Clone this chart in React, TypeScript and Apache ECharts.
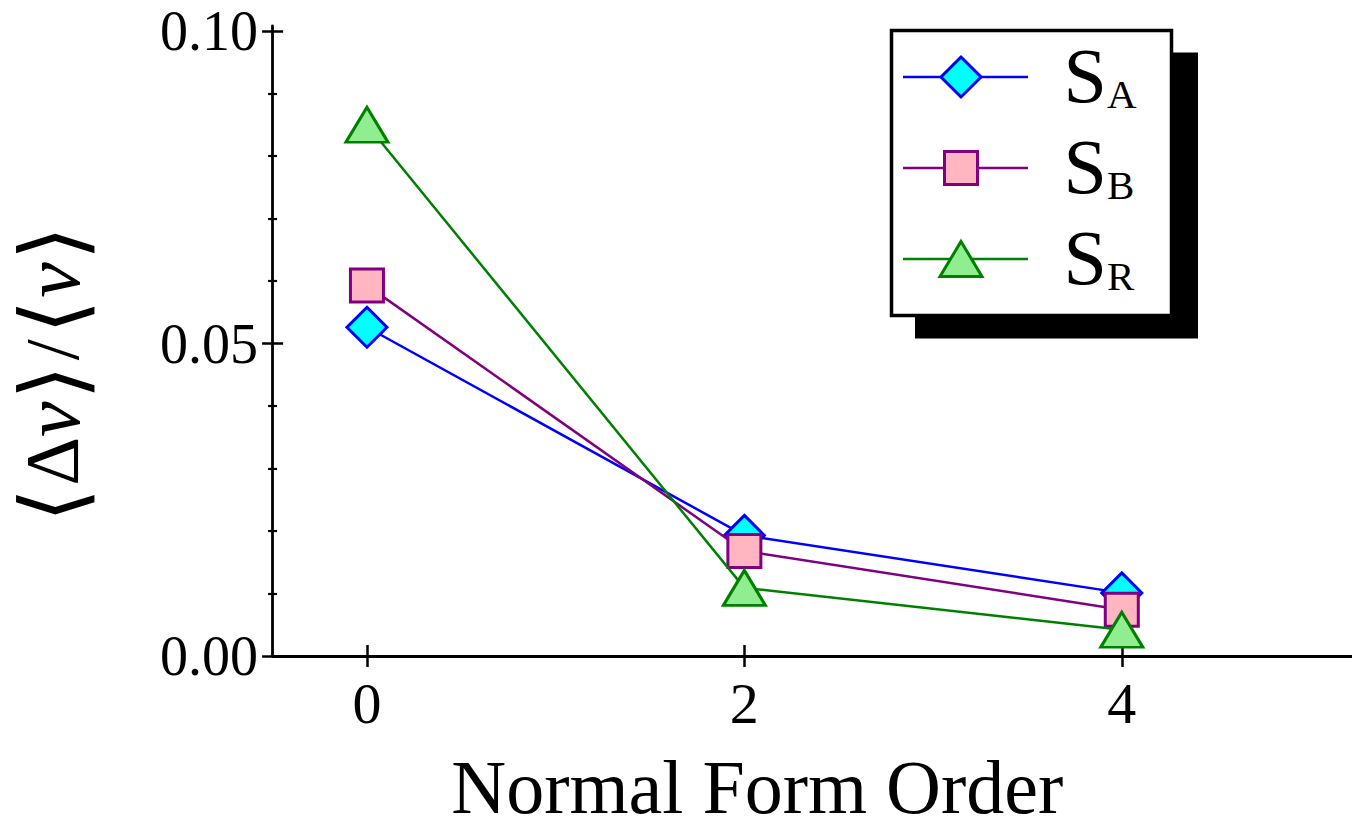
import React, { useEffect, useRef } from "react";
import * as echarts from "echarts";

// Normal form order on the x axis, relative velocity spread on the y axis
const orders = [0, 2, 4];
const valuesA = [0.0526, 0.0193, 0.0101];
const valuesB = [0.0593, 0.0168, 0.0074];
const valuesR = [0.085, 0.0109, 0.0042];
const seriesValues = [valuesA, valuesB, valuesR];
const seriesNames = ["SA", "SB", "SR"];
const subscripts = ["A", "B", "R"];

const xTicks = [0, 2, 4];
const yMajorTicks = [0, 0.05, 0.1];
const yMinorTicks = [0.01, 0.02, 0.03, 0.04, 0.06, 0.07, 0.08, 0.09];

const SERIF = "'Liberation Serif', 'Times New Roman', serif";

const looks = [
  { line: "#0000ff", fill: "#00ffff", symbol: "diamond", size: 40 as number | number[] },
  { line: "#800080", fill: "#ffb6c1", symbol: "rect", size: 33 as number | number[] },
  { line: "#008000", fill: "#90ee90", symbol: "triangle", size: [42, 35] as number | number[] },
];

function legendMarker(i: number, cx: number, cy: number) {
  const st = { fill: looks[i].fill, stroke: looks[i].line, lineWidth: 3 };
  if (i === 0) {
    return {
      type: "polygon",
      shape: { points: [[cx, cy - 20], [cx + 20, cy], [cx, cy + 20], [cx - 20, cy]] },
      style: st,
    };
  }
  if (i === 1) {
    return { type: "rect", shape: { x: cx - 16.5, y: cy - 16.5, width: 33, height: 33 }, style: st };
  }
  return {
    type: "polygon",
    shape: { points: [[cx, cy - 17.5], [cx + 21, cy + 17.5], [cx - 21, cy + 17.5]] },
    style: st,
  };
}

// Framed key with a solid drop shadow, drawn at the upper right
function buildLegend() {
  const rows = [77, 168, 259];
  const children: any[] = [
    { type: "rect", shape: { x: 915, y: 52.5, width: 283, height: 286 }, style: { fill: "#000" } },
    {
      type: "rect",
      shape: { x: 891.5, y: 30.5, width: 280, height: 285 },
      style: { fill: "#fff", stroke: "#000", lineWidth: 3.5 },
    },
  ];
  rows.forEach((ry, i) => {
    children.push({
      type: "line",
      shape: { x1: 903, y1: ry, x2: 1028, y2: ry },
      style: { stroke: looks[i].line, lineWidth: 2.5 },
    });
    children.push(legendMarker(i, 961, ry));
    children.push({
      type: "text",
      x: 1063.5,
      y: ry - 1.8,
      style: {
        text: `{s|S}{b|${subscripts[i]}}`,
        align: "left",
        verticalAlign: "middle",
        fill: "#000",
        rich: {
          s: { fontFamily: SERIF, fontSize: 78, lineHeight: 78 },
          b: { fontFamily: SERIF, fontSize: 41, lineHeight: 35, verticalAlign: "bottom" },
        },
      },
    });
  });
  return [{ type: "group", z: 100, children }];
}

export default function App() {
  const ref = useRef<HTMLDivElement>(null);

  useEffect(() => {
    if (!ref.current) return;
    const chart = echarts.init(ref.current, null, { renderer: "svg" });

    const yCommon = {
      type: "value",
      min: 0,
      max: 0.1008,
      position: "left",
      offset: 0,
      splitLine: { show: false },
    };
    const xCommon = {
      type: "value",
      min: -0.5,
      max: 5.22,
      position: "bottom",
      offset: 0,
      splitLine: { show: false },
    };
    const hiddenLine = { show: false, onZero: false };
    const tickLine = (w: number) => ({ color: "#000", width: w });

    chart.setOption({
      animation: false,
      backgroundColor: "#ffffff",
      grid: {
        left: 272.6,
        right: 0,
        top: 26,
        bottom: 173,
        containLabel: false,
        outerBoundsMode: "none",
      },
      xAxis: [
        {
          ...xCommon,
          name: "Normal Form Order",
          nameLocation: "middle",
          nameGap: 92.5,
          nameTextStyle: {
            fontFamily: SERIF,
            fontSize: 76,
            color: "#000",
            padding: [0, 110, 0, 0],
          },
          axisLine: { show: true, onZero: false, lineStyle: { color: "#000", width: 2.8 } },
          axisTick: { show: true, inside: false, length: 11, customValues: xTicks, lineStyle: tickLine(2.5) },
          axisLabel: {
            show: true,
            customValues: xTicks,
            margin: 18,
            fontFamily: SERIF,
            fontSize: 58,
            color: "#000",
          },
        },
        {
          ...xCommon,
          axisLine: hiddenLine,
          axisTick: { show: true, inside: true, length: 11, customValues: xTicks, lineStyle: tickLine(2.5) },
          axisLabel: { show: false },
        },
      ],
      yAxis: [
        {
          ...yCommon,
          name: "{b|⟨}{d|Δ}{i|v}{b|⟩}{s|/}{b|⟨}{i|v}{b|⟩}",
          nameLocation: "middle",
          nameGap: 176.6,
          nameTextStyle: {
            color: "#000",
            padding: [0, 66, 0, 0],
            rich: {
              b: {
                fontFamily: "'DejaVu Sans', sans-serif",
                fontSize: 88,
                color: "#000",
                padding: [0, 2, 0, 2],
              },
              d: { fontFamily: SERIF, fontSize: 76, color: "#000" },
              i: { fontFamily: SERIF, fontStyle: "italic", fontSize: 80, color: "#000" },
              s: { fontFamily: SERIF, fontSize: 76, color: "#000", padding: [0, 3, 0, 3] },
            },
          },
          axisLine: { show: true, onZero: false, lineStyle: { color: "#000", width: 2.8 } },
          axisTick: { show: true, inside: false, length: 10.5, customValues: yMajorTicks, lineStyle: tickLine(2.5) },
          axisLabel: {
            show: true,
            customValues: yMajorTicks,
            margin: 14.5,
            fontFamily: SERIF,
            fontSize: 56,
            color: "#000",
            formatter: (v: number) => v.toFixed(2),
          },
        },
        {
          ...yCommon,
          axisLine: hiddenLine,
          axisTick: { show: true, inside: true, length: 10.5, customValues: yMajorTicks, lineStyle: tickLine(2.5) },
          axisLabel: { show: false },
        },
        {
          ...yCommon,
          axisLine: hiddenLine,
          axisTick: { show: true, inside: false, length: 4.5, customValues: yMinorTicks, lineStyle: tickLine(2.2) },
          axisLabel: { show: false },
        },
        {
          ...yCommon,
          axisLine: hiddenLine,
          axisTick: { show: true, inside: true, length: 4.5, customValues: yMinorTicks, lineStyle: tickLine(2.2) },
          axisLabel: { show: false },
        },
      ],
      series: seriesValues.map((vals, i) => ({
        type: "line",
        name: seriesNames[i],
        xAxisIndex: 0,
        yAxisIndex: 0,
        data: orders.map((o, j) => [o, vals[j]]),
        symbol: looks[i].symbol,
        symbolSize: looks[i].size,
        showSymbol: true,
        lineStyle: { color: looks[i].line, width: 2.5 },
        itemStyle: { color: looks[i].fill, borderColor: looks[i].line, borderWidth: 3, opacity: 1 },
        emphasis: { disabled: true },
        z: 2 + i,
      })),
      graphic: buildLegend(),
    });

    return () => chart.dispose();
  }, []);

  return (
    <div
      ref={ref}
      style={{ position: "fixed", left: 0, top: 0, width: 1352, height: 829, background: "#fff" }}
    />
  );
}
